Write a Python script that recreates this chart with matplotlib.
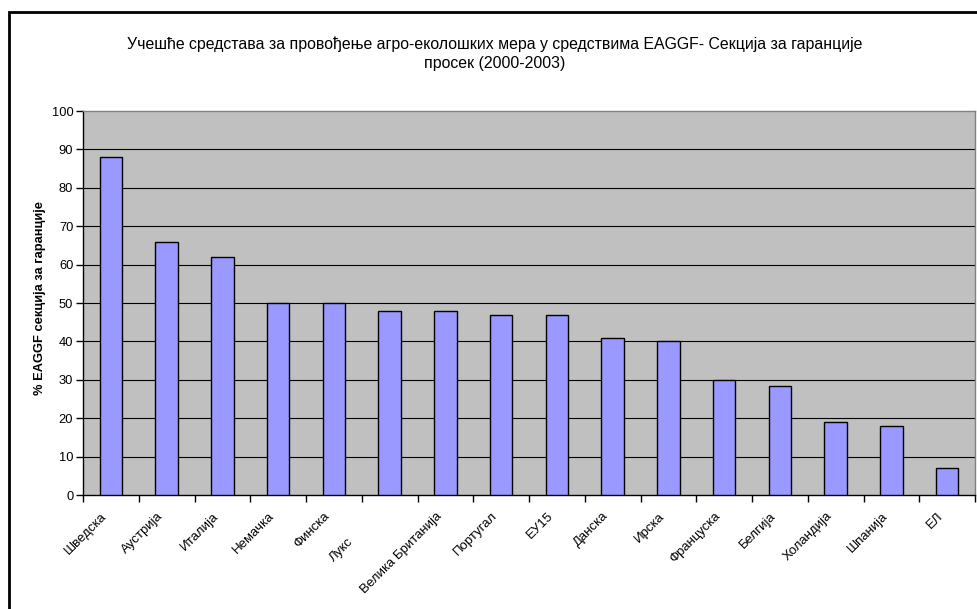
import matplotlib
matplotlib.use('Agg')
import matplotlib.pyplot as plt
from matplotlib.patches import Rectangle
import numpy as np

categories = ['Шведска', 'Аустрија', 'Италија', 'Немачка', 'Финска', 'Лукс',
              'Велика Британија', 'Португал', 'ЕУ15', 'Данска', 'Ирска',
              'Француска', 'Белгија', 'Холандија', 'Шпанија', 'ЕЛ']
values = [88, 66, 62, 50, 50, 48, 48, 47, 47, 41, 40, 30, 28.5, 19, 18, 7]
yticks = list(range(0, 101, 10))
title = ('Учешће средстава за провођење агро-еколошких мера у средствима EAGGF- Секција за гаранције\n'
         'просек (2000-2003)')
ylabel = '% EAGGF секција за гаранције'

plt.rcParams['font.family'] = ['Liberation Sans', 'DejaVu Sans']

W, H = 977, 609
fig = plt.figure(figsize=(W / 100, H / 100), dpi=100)
fig.patch.set_facecolor('white')

ax = fig.add_axes([83 / W, 1 - 495 / H, (975 - 83) / W, (495 - 111) / H])
ax.set_facecolor('#C0C0C0')

x = np.arange(len(categories))
ax.bar(x, values, width=0.4, color='#9999FF', edgecolor='black', linewidth=1.0, zorder=3)
ax.set_xlim(-0.5, len(categories) - 0.5)
ax.set_ylim(0, 100)
ax.set_yticks(yticks)
for v in yticks[1:-1]:
    ax.axhline(v, color='black', linewidth=0.8, zorder=1)

ax.set_xticks(np.arange(-0.5, len(categories), 1.0))
ax.set_xticklabels([])
ax.tick_params(axis='x', direction='out', length=5, width=1, color='black')
ax.tick_params(axis='y', direction='out', length=5, width=1, color='black',
               labelsize=9.3, pad=2)

for s in ['left', 'bottom']:
    ax.spines[s].set_color('black')
    ax.spines[s].set_linewidth(1.0)
for s in ['top', 'right']:
    ax.spines[s].set_color('#808080')
    ax.spines[s].set_linewidth(1.0)

# category labels (one is drawn lower, as in the original)
label_shift = {5: (-32, -26)}
for i, name in enumerate(categories):
    dx, dy = label_shift.get(i, (0, 0))
    ax.annotate(name, xy=(i, 0), xycoords=('data', 'axes fraction'),
                xytext=((-10 + dx) * 0.72, (-15 + dy) * 0.72), textcoords='offset points',
                rotation=45, ha='right', va='top', rotation_mode='anchor',
                fontsize=9.5, color='black')

fig.text(495 / W, 1 - 54 / H, title, ha='center', va='center', fontsize=11.4,
         linespacing=1.3)
fig.text(40 / W, 1 - 298 / H, ylabel, rotation=90, fontweight='bold', fontsize=9.25,
         ha='center', va='center')

fig.patches.append(Rectangle((8.5 / W, -0.1), 1.2, 1.1 - 12.5 / H,
                             transform=fig.transFigure, fill=False,
                             edgecolor='black', linewidth=2))

fig.savefig('out.png', dpi=100)
